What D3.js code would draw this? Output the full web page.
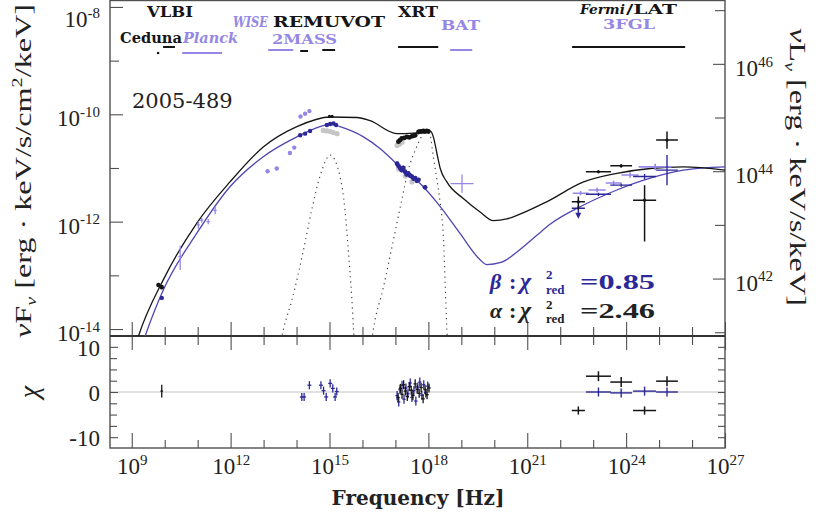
<!DOCTYPE html>
<html>
<head>
<meta charset="utf-8">
<script src="https://cdn.jsdelivr.net/npm/d3@7"></script>
<style>
  body { margin: 0; background: #fff; }
  svg { display: block; }
</style>
</head>
<body>
<svg id="chart" width="816" height="518"></svg>
<script>
// ---- values (log10 of nu [Hz] and of nuFnu) ----
const xMajorExps = [9, 12, 15, 18, 21, 24, 27];
const xMinorExps = [9, 10, 11, 12, 13, 14, 15, 16, 17, 18, 19, 20, 21, 22, 23, 24, 25, 26, 27];
const yLeftMajor = [-8, -10, -12, -14];
const yLeftMinor = [-9, -11, -13];
const yRightMajor = [46, 44, 42];
const yRightMinor = [47, 45, 43, 41];
const residMajor = [10, 0, -10];
const residMinor = [7.5, 5, 2.5, -2.5, -5, -7.5];

// model curves [log nu, log nuFnu]
const modelAlpha = [
  [9.0, -14.55], [9.20, -14.14], [9.96, -13.08], [10.97, -12.03], [11.98, -11.26], [12.99, -10.61],
  [14.01, -10.23], [15.02, -10.05], [15.83, -10.06], [16.23, -10.12], [17.04, -10.36],
  [17.54, -10.35], [18.05, -10.31], [18.15, -10.42], [18.26, -10.73], [18.36, -11.01],
  [18.56, -11.26], [19.06, -11.57], [19.57, -11.82], [19.97, -11.98], [20.38, -11.95],
  [20.78, -11.86], [21.59, -11.63], [22.71, -11.26], [23.72, -11.10], [24.73, -11.01],
  [25.74, -10.98], [27.0, -11.04]
];
const modelBeta = [
  [9.2, -14.5], [9.40, -14.14], [9.96, -13.27], [10.97, -12.22], [11.98, -11.35], [12.99, -10.79],
  [14.01, -10.42], [14.71, -10.23], [15.02, -10.18], [15.32, -10.23], [16.03, -10.42],
  [16.54, -10.64], [17.14, -10.98], [17.75, -11.29], [18.36, -11.72], [18.96, -12.22],
  [19.57, -12.71], [19.77, -12.80], [20.2, -12.76], [20.78, -12.52], [21.3, -12.25],
  [21.69, -12.05], [22.71, -11.69], [23.72, -11.41], [24.73, -11.19], [25.74, -11.04], [27.0, -10.98]
];
const compThermal = [
  [13.5, -14.3], [13.60, -14.01], [13.86, -13.46], [14.21, -12.53], [14.46, -11.78], [14.71, -11.16],
  [15.02, -10.76], [15.32, -11.16], [15.47, -11.78], [15.57, -12.53], [15.68, -13.46], [15.73, -14.01], [15.76, -14.3]
];
const compCorona = [
  [16.26, -14.3], [16.33, -14.01], [16.64, -13.21], [16.94, -12.34], [17.19, -11.60], [17.39, -11.04],
  [17.60, -10.67], [17.95, -10.33], [18.05, -10.39], [18.15, -10.79], [18.26, -11.22],
  [18.36, -11.66], [18.41, -11.91], [18.46, -12.34], [18.51, -13.15], [18.56, -14.01], [18.58, -14.3]
];

// data [log nu, log nuFnu, dx, dy up, dy down]
const radioAlpha = [[9.81, -13.18, 0.04, 0.04, 0.04], [9.91, -13.22, 0.04, 0.04, 0.04]];
const radioBeta = [[9.91, -13.42, 0.03, 0.03, 0.03]];
const planck = [
  [10.47, -12.65, 0.06, 0.2, 0.25], [11.02, -12.06, 0.05, 0.07, 0.07], [11.12, -11.97, 0.05, 0.05, 0.05],
  [11.32, -12.0, 0.05, 0.05, 0.05], [11.53, -11.79, 0.05, 0.07, 0.07]
];
const wise2mass = [
  [13.12, -11.06, 0.03, 0.03, 0.03], [13.40, -11.01, 0.03, 0.03, 0.03], [13.80, -10.72, 0.03, 0.03, 0.03],
  [13.93, -10.62, 0.03, 0.03, 0.03], [14.12, -10.04, 0.03, 0.03, 0.03], [14.26, -9.99, 0.03, 0.03, 0.03],
  [14.39, -9.94, 0.03, 0.03, 0.03]
];
const opticalGray = [[14.81, -10.30, 0.04, 0.02, 0.02], [14.92, -10.31, 0.04, 0.02, 0.02], [15.02, -10.32, 0.04, 0.02, 0.02], [15.12, -10.34, 0.04, 0.02, 0.02], [15.23, -10.36, 0.04, 0.02, 0.02]];
const opticalBeta = [
  [14.11, -10.39, 0.04, 0.02, 0.02], [14.26, -10.36, 0.04, 0.02, 0.02], [14.41, -10.31, 0.04, 0.02, 0.02],
  [14.92, -10.20, 0.04, 0.02, 0.02], [15.02, -10.18, 0.04, 0.02, 0.02], [15.12, -10.17, 0.04, 0.02, 0.02],
  [15.20, -10.20, 0.04, 0.02, 0.02]
];
const opticalAlpha = [[15.0, -10.04, 0.04, 0.02, 0.02], [15.08, -10.04, 0.04, 0.02, 0.02]];
const xrtAlpha = [
  [17.09, -10.51], [17.14, -10.48], [17.19, -10.45], [17.27, -10.44], [17.35, -10.42], [17.42, -10.43],
  [17.50, -10.41], [17.55, -10.40], [17.60, -10.39], [17.70, -10.33], [17.75, -10.32], [17.80, -10.32],
  [17.85, -10.31], [17.90, -10.32], [17.95, -10.31], [18.00, -10.32]
].map(d => [d[0], d[1], 0.03, 0.03, 0.03]);
const xrtGray = [[17.05, -10.58], [17.12, -10.56], [17.2, -10.52], [17.1, -11.02], [17.3, -11.15], [17.5, -11.26]]
  .map(d => [d[0], d[1], 0.03, 0.03, 0.03]);
const xrtBeta = [
  [17.05, -10.92], [17.09, -10.96], [17.14, -11.0], [17.19, -11.04], [17.24, -11.0], [17.29, -11.07],
  [17.34, -11.12], [17.39, -11.10], [17.44, -11.14], [17.50, -11.16], [17.55, -11.20], [17.60, -11.19],
  [17.65, -11.24], [17.70, -11.22], [17.90, -11.36]
].map(d => [d[0], d[1], 0.03, 0.04, 0.04]);
const bat = [[19.02, -11.29, 0.35, 0.17, 0.17]];
const fermiAlpha = [
  [22.55, -11.63, 0.2, 0.1, 0.15], [23.16, -11.07, 0.38, 0.03, 0.03], [23.85, -10.96, 0.33, 0.03, 0.03],
  [24.56, -11.60, 0.35, 0.28, 0.77], [25.24, -10.48, 0.33, 0.16, 0.16]
];
const fermiBeta = [
  [22.55, -11.75, 0.2, 0.05, 0.12], [23.16, -11.49, 0.38, 0.03, 0.03], [23.85, -11.32, 0.33, 0.03, 0.03],
  [24.56, -11.16, 0.35, 0.05, 0.05], [25.24, -11.04, 0.33, 0.28, 0.28]
];
const fgl3 = [
  [22.62, -11.47, 0.24, 0.04, 0.04], [23.12, -11.41, 0.26, 0.04, 0.04], [23.62, -11.28, 0.24, 0.04, 0.04],
  [24.12, -11.13, 0.26, 0.05, 0.05], [24.88, -10.98, 0.5, 0.06, 0.06]
];

// residuals [log nu, chi, dx, dchi]
const residRadio = [[9.91, 0.2, 0.04, 1.4]];
const residOptical = [
  [14.16, -1.1], [14.23, -1.1], [14.39, 1.5], [14.74, 1.5], [14.82, 0.3], [14.90, -1.1],
  [15.02, 1.9], [15.10, 0.8], [15.17, -1.1], [15.22, 0.1]
].map(d => [d[0], d[1], 0.06, 0.9]);
const residXrtAlpha = [
  [17.08, -1.2], [17.15, 0.8], [17.2, -0.5], [17.25, 1.6], [17.3, 0.2], [17.36, -1.0], [17.42, 1.2],
  [17.48, 0.4], [17.53, -0.8], [17.6, 1.8], [17.66, 0.6], [17.72, -0.3], [17.78, 1.0], [17.84, -1.5],
  [17.9, 0.5], [17.96, -0.6], [18.02, 0.9]
].map(d => [d[0], d[1], 0.05, 1.0]);
const residXrtBeta = [
  [17.05, -0.8], [17.1, -2.2], [17.14, 0.5], [17.2, 1.5], [17.26, -1.6], [17.32, 0.9], [17.38, -0.4],
  [17.45, 2.0], [17.5, -1.2], [17.56, 0.3], [17.62, -2.0], [17.68, 1.1], [17.74, 2.2], [17.8, -0.7],
  [17.86, 1.6], [17.92, -0.2], [17.98, 1.3]
].map(d => [d[0], d[1], 0.05, 1.0]);
const residFermiAlpha = [[22.55, -4.1, 0.2, 0.9], [23.16, 3.5, 0.38, 1.1], [23.85, 2.2, 0.33, 1.1], [24.56, -4.1, 0.35, 0.9], [25.24, 2.4, 0.33, 1.1]];
const residFermiBeta = [[23.16, 0.0, 0.38, 1.0], [23.85, -0.2, 0.33, 1.0], [24.56, 0.2, 0.35, 1.0], [25.24, 0.0, 0.33, 1.0]];

// instrument bands [name, log nu low, log nu high]
const bands = [
  ['VLBI', 9.80, 9.80], ['Ceduna', 9.95, 10.31], ['Planck', 10.53, 11.74], ['WISE', 13.14, 13.90],
  ['REM', 14.11, 14.35], ['UVOT', 14.78, 15.17], ['XRT', 17.08, 18.30], ['BAT', 18.66, 19.33],
  ['LAT', 22.36, 25.79]
];

// ---- layout ----
const C = { black: '#151515', blueModel: '#4f46b2', dark: '#2c2897', purple: '#9587e6', gray: '#c6c6c6', frame: '#505050' };
const fr = { left: 110, right: 725, top: 0.5, mid: 336, bottom: 448 };
const lumShift = 55.06;
const serif = "'Liberation Serif', 'Times New Roman', serif";
const bold = "'DejaVu Serif', serif";

const svg = d3.select('#chart').attr('font-family', serif);

const x = d3.scaleLog().domain([10 ** 8.34, 1e27]).range([fr.left, fr.right]);
const yF = d3.scaleLog().domain([10 ** -14.13, 10 ** -7.88]).range([fr.mid, fr.top]);
const yL = d3.scaleLog().domain([10 ** (-14.13 + lumShift), 10 ** (-7.88 + lumShift)]).range([fr.mid, fr.top]);
const yR = d3.scaleLinear().domain([-12.4, 12.4]).range([fr.bottom, fr.mid]);

svg.append('clipPath').attr('id', 'clipMain')
  .append('rect').attr('x', fr.left).attr('y', fr.top).attr('width', fr.right - fr.left).attr('height', fr.mid - fr.top);

// superscript tick labels "10^n"
function powLabel(sel, expOf) {
  sel.selectAll('.tick text').each(function (d) {
    const t = d3.select(this);
    t.text(null);
    t.append('tspan').text('10');
    t.append('tspan').attr('dy', '-0.62em').attr('font-size', '15px').text(expOf(d));
  });
}

function axisStyle(g) {
  g.attr('font-family', serif);
  g.select('.domain').remove();
  g.selectAll('.tick line').attr('stroke', C.frame).attr('stroke-width', 1.1);
  g.selectAll('.tick text').attr('fill', '#222').attr('font-size', '23px');
}

// residual zero line
svg.append('line').attr('x1', fr.left).attr('x2', fr.right).attr('y1', yR(0)).attr('y2', yR(0))
  .attr('stroke', '#c4c4c4').attr('stroke-width', 1.2);

// x ticks: main panel bottom (up), residual top (down), residual bottom (up, labelled)
const xMaj = xMajorExps.map(e => 10 ** e);
const xMin = xMinorExps.filter(e => !xMajorExps.includes(e)).map(e => 10 ** e);
[[d3.axisBottom, fr.mid, -14, -9], [d3.axisTop, fr.mid, -14, -9], [d3.axisBottom, fr.bottom, -15, -8]].forEach(([ax, yy, big, small], i) => {
  svg.append('g').attr('transform', `translate(0,${yy})`)
    .call(ax(x).tickValues(xMin).tickSize(small).tickFormat(''))
    .call(axisStyle);
  const g = svg.append('g').attr('transform', `translate(0,${yy})`)
    .call(ax(x).tickValues(xMaj).tickSize(big).tickPadding(i === 2 ? 10 : 3).tickFormat(i === 2 ? (d => d) : ''))
    .call(axisStyle);
  if (i === 2) powLabel(g, d => Math.round(Math.log10(d)));
});

// left flux axis
svg.append('g').attr('transform', `translate(${fr.left},0)`)
  .call(d3.axisLeft(yF).tickValues(yLeftMinor.map(e => 10 ** e)).tickSize(-9).tickFormat(''))
  .call(axisStyle);
const gl = svg.append('g').attr('transform', `translate(${fr.left},0)`)
  .call(d3.axisLeft(yF).tickValues(yLeftMajor.map(e => 10 ** e)).tickSize(-13).tickPadding(10).tickFormat(d => d))
  .call(axisStyle);
powLabel(gl, d => Math.round(Math.log10(d)));
gl.selectAll('.tick text').attr('dy', d => (d > 1e-9 ? '0.85em' : '0.5em'));

// right luminosity axis
svg.append('g').attr('transform', `translate(${fr.right},0)`)
  .call(d3.axisRight(yL).tickValues(yRightMinor.map(e => 10 ** e)).tickSize(-10).tickFormat(''))
  .call(axisStyle);
const gr = svg.append('g').attr('transform', `translate(${fr.right},0)`)
  .call(d3.axisRight(yL).tickValues(yRightMajor.map(e => 10 ** e)).tickSize(-12).tickPadding(10).tickFormat(d => d))
  .call(axisStyle);
powLabel(gr, d => Math.round(Math.log10(d)));
gr.selectAll('.tick text').attr('dy', '0.5em');

// residual axes
svg.append('g').attr('transform', `translate(${fr.left},0)`)
  .call(d3.axisLeft(yR).tickValues(residMinor).tickSize(-7).tickFormat(''))
  .call(axisStyle);
svg.append('g').attr('transform', `translate(${fr.left},0)`)
  .call(d3.axisLeft(yR).tickValues(residMajor).tickSize(-8).tickPadding(10).tickFormat(d => d))
  .call(axisStyle)
  .selectAll('.tick text').attr('dy', '0.36em');
svg.append('g').attr('transform', `translate(${fr.right},0)`)
  .call(d3.axisRight(yR).tickValues(residMinor.concat(residMajor)).tickSize(-7).tickFormat(''))
  .call(axisStyle);

// frames
svg.append('rect').attr('x', fr.left).attr('y', fr.top).attr('width', fr.right - fr.left).attr('height', fr.bottom - fr.top)
  .attr('fill', 'none').attr('stroke', C.frame).attr('stroke-width', 1.4);
svg.append('line').attr('x1', fr.left).attr('x2', fr.right).attr('y1', fr.mid).attr('y2', fr.mid)
  .attr('stroke', '#333').attr('stroke-width', 2);

// ---- curves ----
const main = svg.append('g').attr('clip-path', 'url(#clipMain)');
const line = d3.line().x(d => x(10 ** d[0])).y(d => yF(10 ** d[1])).curve(d3.curveMonotoneX);
[compThermal, compCorona].forEach(d => {
  main.append('path').attr('d', line(d)).attr('fill', 'none').attr('stroke', '#444')
    .attr('stroke-width', 1.2).attr('stroke-dasharray', '1.2,4');
});
main.append('path').attr('d', line(modelBeta)).attr('fill', 'none').attr('stroke', C.blueModel).attr('stroke-width', 1.3);
main.append('path').attr('d', line(modelAlpha)).attr('fill', 'none').attr('stroke', C.black).attr('stroke-width', 1.3);

// ---- data crosses ----
function crosses(layer, rows, yScale, yv, color, sw, r) {
  const g = layer.append('g').attr('stroke', color).attr('stroke-width', sw);
  g.selectAll('line.h').data(rows).join('line').attr('class', 'h')
    .attr('x1', d => x(10 ** (d[0] - d[2]))).attr('x2', d => x(10 ** (d[0] + d[2])))
    .attr('y1', d => yScale(yv(d[1]))).attr('y2', d => yScale(yv(d[1])));
  g.selectAll('line.v').data(rows).join('line').attr('class', 'v')
    .attr('x1', d => x(10 ** d[0])).attr('x2', d => x(10 ** d[0]))
    .attr('y1', d => yScale(yv(d[1] + d[3]))).attr('y2', d => yScale(yv(d[1] - (d.length > 4 ? d[4] : d[3]))));
  if (r) {
    g.selectAll('circle').data(rows).join('circle')
      .attr('cx', d => x(10 ** d[0])).attr('cy', d => yScale(yv(d[1]))).attr('r', r)
      .attr('fill', color).attr('stroke', 'none');
  }
}
const lg = v => 10 ** v;
const id = v => v;

crosses(main, xrtGray, yF, lg, C.gray, 1, 2.6);
crosses(main, opticalGray, yF, lg, C.gray, 1, 2.6);
crosses(main, planck, yF, lg, C.purple, 1.3, 0);
crosses(main, wise2mass, yF, lg, C.purple, 1.2, 2.2);
crosses(main, bat, yF, lg, C.purple, 1.3, 0);
crosses(main, fgl3, yF, lg, C.purple, 1.6, 0);
crosses(main, radioBeta, yF, lg, C.dark, 1.2, 2.2);
crosses(main, opticalBeta, yF, lg, C.dark, 1.2, 2.2);
crosses(main, xrtBeta, yF, lg, C.dark, 1.2, 2.4);
crosses(main, fermiBeta, yF, lg, C.dark, 1.4, 0);
crosses(main, radioAlpha, yF, lg, C.black, 1.2, 2.3);
crosses(main, opticalAlpha, yF, lg, C.black, 1.0, 1.6);
crosses(main, xrtAlpha, yF, lg, C.black, 1.2, 2.4);
crosses(main, fermiAlpha, yF, lg, C.black, 1.5, 1.6);

// downward arrow on the lowest-energy beta Fermi point (upper-limit style)
fermiBeta.slice(0, 1).forEach(d => {
  const px = x(10 ** d[0]), py = yF(10 ** (d[1] - d[4]));
  main.append('path').attr('d', `M${px - 3},${py - 2}L${px + 3},${py - 2}L${px},${py + 4}Z`).attr('fill', C.dark);
});

const res = svg.append('g');
crosses(res, residOptical, yR, id, C.dark, 1.3, 0);
crosses(res, residXrtBeta, yR, id, C.dark, 1.3, 0);
crosses(res, residXrtAlpha, yR, id, C.black, 1.3, 0);
crosses(res, residRadio, yR, id, C.black, 1.3, 0);
crosses(res, residFermiBeta, yR, id, C.dark, 1.4, 0);
crosses(res, residFermiAlpha, yR, id, C.black, 1.5, 0);

// ---- instrument bands along the top ----
const bandStyle = {
  VLBI: [C.black, 53], Ceduna: [C.black, 47], Planck: [C.purple, 53], WISE: [C.purple, 50],
  REM: [C.black, 51], UVOT: [C.black, 50], XRT: [C.black, 47], BAT: [C.purple, 50], LAT: [C.black, 47]
};
const header = svg.append('g');
bands.forEach(([name, lo, hi]) => {
  const [col, yy] = bandStyle[name];
  if (lo === hi) {
    header.append('circle').attr('cx', x(10 ** lo)).attr('cy', yy).attr('r', 1.3).attr('fill', col);
  } else {
    header.append('line').attr('x1', x(10 ** lo)).attr('x2', x(10 ** hi)).attr('y1', yy).attr('y2', yy)
      .attr('stroke', col).attr('stroke-width', 2);
  }
});

function label(txt, x0, y0, w, col, italic, size) {
  return header.append('text').attr('x', x0).attr('y', y0).text(txt)
    .attr('fill', col).attr('font-family', bold).attr('font-weight', 'bold')
    .attr('font-style', italic ? 'italic' : 'normal').attr('font-size', size || 14)
    .attr('textLength', w).attr('lengthAdjust', 'spacingAndGlyphs');
}
label('VLBI', 147, 17, 46, C.black);
label('Ceduna', 120, 43, 62, C.black);
label('Planck', 183, 43, 55, C.purple, true);
label('WISE', 233, 27, 35, C.purple, true);
label('REMUVOT', 273, 27, 112, C.black);
label('2MASS', 272, 44, 65, C.purple, false, 13);
label('XRT', 398, 17, 40, C.black);
label('BAT', 441, 30, 39, C.purple, false, 13);
label('Fermi', 580, 14, 45, C.black, true, 13);
label('/LAT', 626, 14, 51, C.black, false, 13);
label('3FGL', 603, 29, 52, C.purple, false, 13);

// source name
svg.append('text').attr('x', 132).attr('y', 108).text('2005-489')
  .attr('font-family', bold).attr('font-size', 21).attr('fill', '#222');

// chi-square annotations
function chiLine(sym, val, col, yb, subDy, supDy) {
  const g = svg.append('g').attr('fill', col).attr('font-family', serif).attr('font-weight', 'bold');
  g.append('text').attr('x', 490).attr('y', yb).attr('font-size', 22).attr('font-style', 'italic').text(sym);
  g.append('text').attr('x', 509).attr('y', yb).attr('font-size', 22).text(':');
  g.append('text').attr('x', 520).attr('y', yb).attr('font-size', 24).attr('font-style', 'italic').text('χ');
  g.append('text').attr('x', 546).attr('y', yb + supDy).attr('font-size', 13).text('2');
  g.append('text').attr('x', 546).attr('y', yb + subDy).attr('font-size', 13).text('red');
  g.append('text').attr('x', 580).attr('y', yb).attr('font-size', 22)
    .attr('textLength', 75).attr('lengthAdjust', 'spacingAndGlyphs').text(val);
}
chiLine('β', '=0.85', C.dark, 289, 5, -10);
chiLine('α', '=2.46', '#222', 318, 5, -9);

// axis titles
const ylab = svg.append('text').attr('transform', 'translate(31,338) rotate(-90)').attr('font-family', serif)
  .attr('font-size', 24).attr('fill', '#222').attr('textLength', 334).attr('lengthAdjust', 'spacingAndGlyphs');
ylab.append('tspan').attr('font-style', 'italic').text('ν');
ylab.append('tspan').text('F');
ylab.append('tspan').attr('font-size', 15).attr('font-style', 'italic').attr('dy', 5).text('ν');
ylab.append('tspan').attr('dy', -5).text(' [erg · keV/s/cm');
ylab.append('tspan').attr('font-size', 15).attr('dy', -9).text('2');
ylab.append('tspan').attr('dy', 9).text('/keV]');

const rlab = svg.append('text').attr('transform', 'translate(790,28) rotate(90)').attr('font-family', serif)
  .attr('font-size', 24).attr('fill', '#222').attr('textLength', 278).attr('lengthAdjust', 'spacingAndGlyphs');
rlab.append('tspan').attr('font-style', 'italic').text('ν');
rlab.append('tspan').text('L');
rlab.append('tspan').attr('font-size', 15).attr('font-style', 'italic').attr('dy', 5).text('ν');
rlab.append('tspan').attr('dy', -5).text(' [erg · keV/s/keV]');

svg.append('text').attr('transform', `translate(38,${yR(0)}) rotate(-90)`).attr('text-anchor', 'middle')
  .attr('font-family', serif).attr('font-size', 28).attr('font-style', 'italic').attr('fill', '#222').text('χ');

svg.append('text').attr('x', 418).attr('y', 505).attr('text-anchor', 'middle')
  .attr('font-family', bold).attr('font-weight', 'bold').attr('font-size', 20).attr('fill', '#222')
  .text('Frequency [Hz]');
</script>
</body>
</html>
